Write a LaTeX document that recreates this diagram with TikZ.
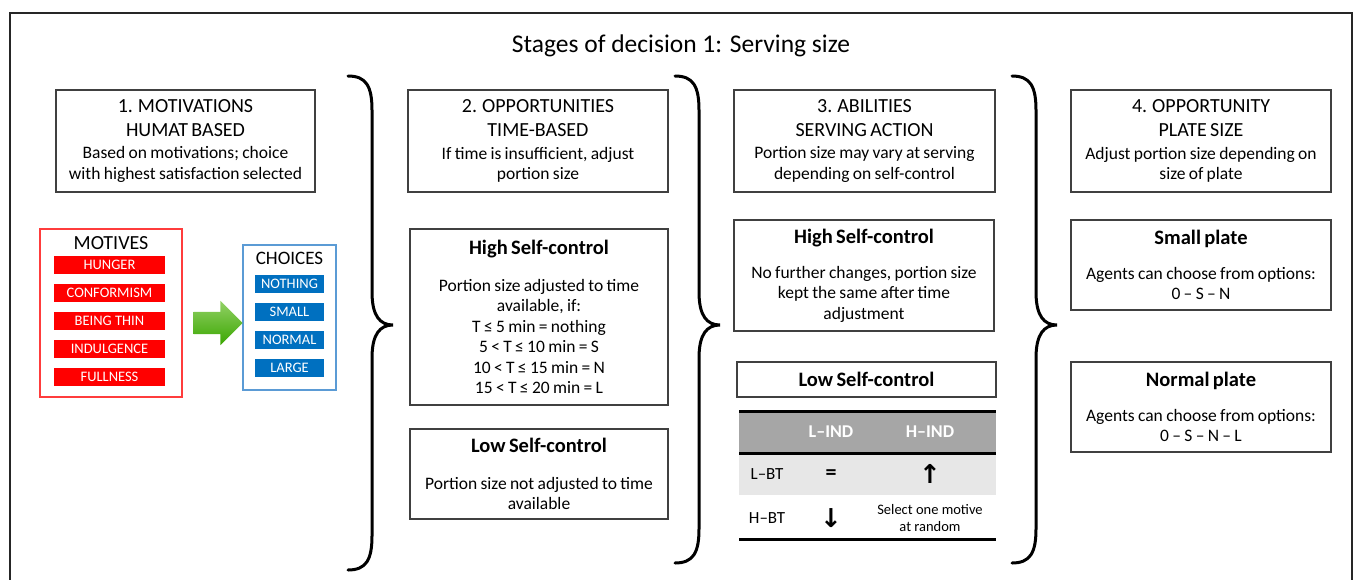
\documentclass[tikz,border=0pt]{standalone}
\usepackage{fontspec}
\setmainfont{Carlito}
\newfontfamily\arrowfont{DejaVu Sans}
\usetikzlibrary{shapes.arrows}

\definecolor{motred}{RGB}{255,0,0}
\definecolor{motframe}{RGB}{255,60,60}
\definecolor{choiceblue}{RGB}{0,112,192}
\definecolor{choiceframe}{RGB}{91,155,213}
\definecolor{hdrgray}{RGB}{166,166,166}
\definecolor{rowgray}{RGB}{231,231,231}
\definecolor{boxline}{RGB}{64,64,64}

\newcommand{\hdfont}{\normalfont\fontsize{20}{24}\selectfont}
\newcommand{\bdfont}{\normalfont\fontsize{17.5}{20.5}\selectfont}
\newcommand{\ttlfont}{\normalfont\fontsize{20.5}{22}\selectfont\bfseries}

\tikzset{
  hdrbox/.style={draw=boxline, line width=1.2pt, inner sep=0pt, align=center,
    text width=#1, minimum height=102pt},
  infobox/.style={draw=boxline, line width=1.2pt, inner sep=0pt, align=center,
    text width=#1},
  motive/.style={fill=motred, text=white, minimum width=111pt, minimum height=18pt,
    inner sep=0pt, font=\fontsize{14.5}{16}\selectfont},
  choice/.style={fill=choiceblue, text=white, minimum width=69pt, minimum height=18pt,
    inner sep=0pt, font=\fontsize{14.5}{16}\selectfont},
  tblhead/.style={text=white, font=\fontsize{18}{20}\selectfont\bfseries},
  tblcell/.style={font=\fontsize{17}{20}\selectfont},
  tblsym/.style={font=\arrowfont\fontsize{26}{28}\selectfont\bfseries},
  tblrule/.style={line width=3pt},
  brace/.style={line width=3pt, line cap=round}
}

\begin{document}
\begin{tikzpicture}[x=1pt, y=-1pt]
\useasboundingbox (0,0) rectangle (1358,579);
\clip (0,0) rectangle (1358,579);
\draw[line width=1.4pt, black!85] (10,13) rectangle (1352,600);

\node[font=\fontsize{25.5}{30}\selectfont] (title) at (681,46) {Stages of decision 1: Serving size};

% stage headers
\node[hdrbox=259pt] (stage1) at (185.5,141) {\hdfont 1. MOTIVATIONS\par HUMAT BASED\par
  \vspace{2pt}\bdfont Based on motivations; choice\par with highest satisfaction selected\par};
\node[hdrbox=260pt] (stage2) at (538,141) {\hdfont 2. OPPORTUNITIES\par TIME-BASED\par
  \vspace{2pt}\bdfont If time is insufficient, adjust\par portion size\par};
\node[hdrbox=261pt] (stage3) at (864.5,141) {\hdfont 3. ABILITIES\par SERVING ACTION\par
  \vspace{2pt}\bdfont Portion size may vary at serving\par depending on self-control\par};
\node[hdrbox=260pt] (stage4) at (1201,141) {\hdfont 4. OPPORTUNITY\par PLATE SIZE\par
  \vspace{2pt}\bdfont Adjust portion size depending on\par size of plate\par};

% braces
\foreach \bx/\by in {348/570, 675/563, 1012/563}{
\draw[brace] (\bx,76) .. controls (\bx+18,76) and (\bx+24,86) .. (\bx+24,110)
  -- (\bx+24,292) .. controls (\bx+24,316) and (\bx+32,325) .. (\bx+45,325)
  .. controls (\bx+32,325) and (\bx+24,334) .. (\bx+24,358)
  -- (\bx+24,\by-34) .. controls (\bx+24,\by-10) and (\bx+18,\by) .. (\bx,\by);
}

% motives and choices
\node[draw=motframe, line width=1.3pt, minimum width=142pt, minimum height=168pt, inner sep=0pt]
  (motives) at (111,313) {};
\node[font=\fontsize{20}{22}\selectfont] (motlabel) at (111,243) {MOTIVES};
\foreach \m [count=\i] in {HUNGER, CONFORMISM, BEING THIN, INDULGENCE, FULLNESS}{
\node[motive] (mot\i) at (109.5,{265+28*(\i-1)}) {\m};
}
\node[draw=choiceframe, line width=1.3pt, minimum width=93pt, minimum height=145pt, inner sep=0pt]
  (choices) at (289.5,317.5) {};
\node[font=\fontsize{19}{21}\selectfont] (choicelabel) at (289.5,258) {CHOICES};
\foreach \c [count=\i] in {NOTHING, SMALL, NORMAL, LARGE}{
\node[choice] (ch\i) at (289.5,{284+28*(\i-1)}) {\c};
}
\node[single arrow, top color=green!45!lime!70!black!60, bottom color=green!50!black!70!lime,
  draw=none, minimum height=49pt, minimum width=44pt, inner sep=11pt,
  single arrow head extend=11pt] (pick) at (212.5,323) {};

% stage 2
\node[infobox=258pt, minimum height=176pt] (high2) at (539,317) {\ttlfont High Self-control\par
  \vspace{16pt}\bdfont Portion size adjusted to time\par available, if:\par
  T ≤ 5 min = nothing\par 5 < T ≤ 10 min = S\par 10 < T ≤ 15 min = N\par 15 < T ≤ 20 min = L\par};
\node[infobox=258pt, minimum height=90pt] (low2) at (539,474) {\ttlfont Low Self-control\par
  \vspace{16pt}\bdfont Portion size not adjusted to time\par available\par};

% stage 3
\node[infobox=260pt, minimum height=111pt] (high3) at (864,275.5) {\ttlfont High Self-control\par
  \vspace{14.5pt}\bdfont No further changes, portion size\par kept the same after time\par adjustment\par};
\node[infobox=259pt, minimum height=35pt] (low3) at (866.5,379.5) {\ttlfont Low Self-control\par};

\fill[hdrgray] (739,411) rectangle (996,453);
\fill[rowgray] (739,453) rectangle (996,495);
\draw[tblrule] (739,411) -- (996,411);
\draw[tblrule] (739,453) -- (996,453);
\draw[tblrule] (739,539) -- (996,539);
\node[tblhead] (lind) at (831,432) {L–IND};
\node[tblhead] (hind) at (930,432) {H–IND};
\node[tblcell] (lbt) at (767,474) {L–BT};
\node[font=\fontsize{22}{24}\selectfont\bfseries] (same) at (831,475) {=};
\node[tblsym] (up) at (930,474) {↑};
\node[tblcell] (hbt) at (767,518) {H–BT};
\node[tblsym] (down) at (831,518) {↓};
\node[align=center, font=\fontsize{14.5}{17}\selectfont] (random) at (930,518) {Select one motive\\at random};

% stage 4
\node[infobox=260pt, minimum height=90pt] (small) at (1201,265) {\ttlfont Small plate\par
  \vspace{14.5pt}\bdfont Agents can choose from options:\par 0 – S – N\par};
\node[infobox=260pt, minimum height=90pt] (normal) at (1201,407) {\ttlfont Normal plate\par
  \vspace{14.5pt}\bdfont Agents can choose from options:\par 0 – S – N – L\par};
\end{tikzpicture}
\end{document}
